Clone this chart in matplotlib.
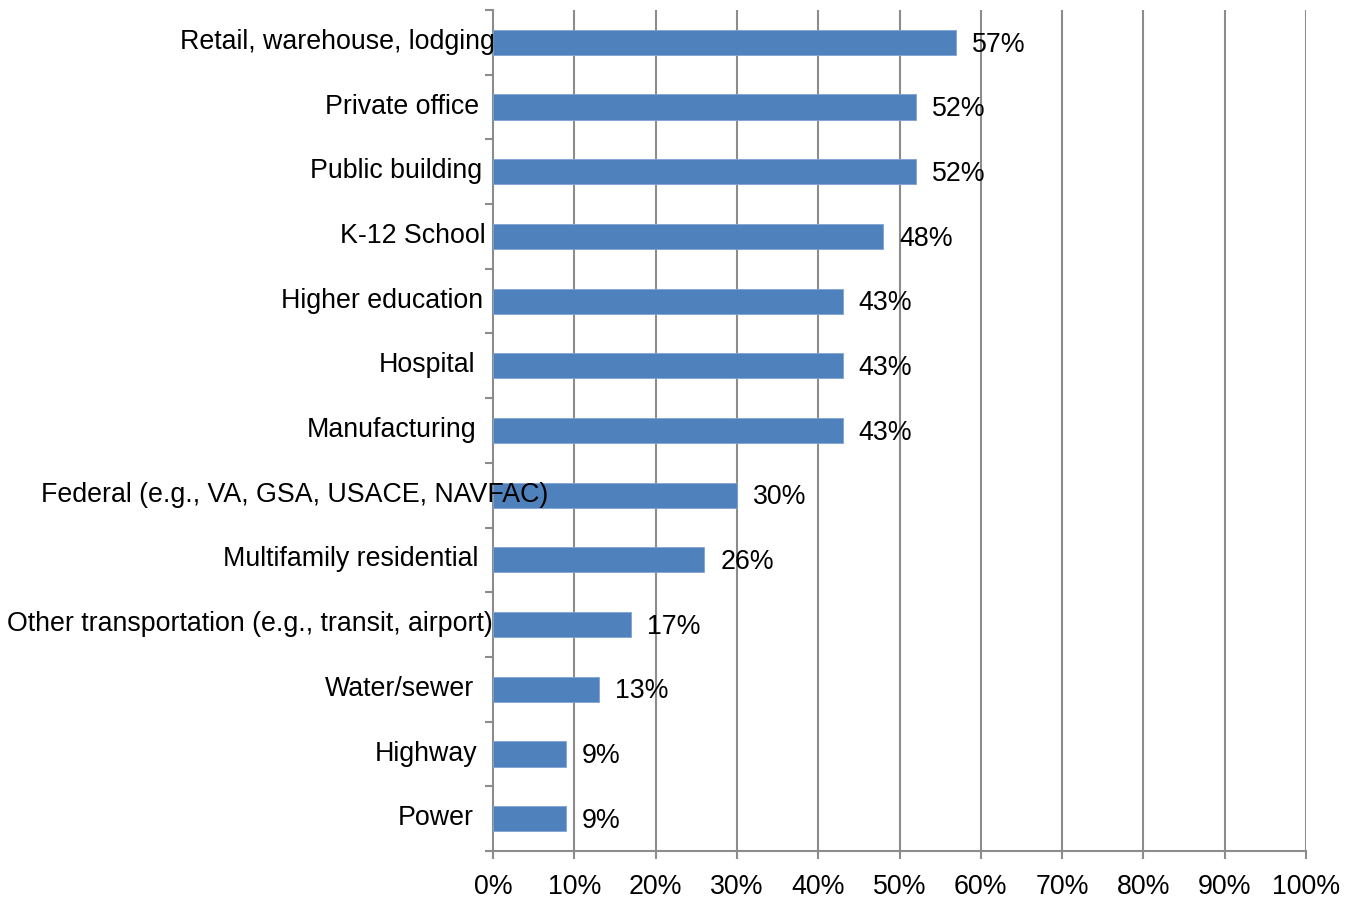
import matplotlib
matplotlib.use("Agg")
import matplotlib.pyplot as plt
from matplotlib.ticker import PercentFormatter

categories = ["Retail, warehouse, lodging", "Private office", "Public building",
              "K-12 School", "Higher education", "Hospital", "Manufacturing",
              "Federal (e.g., VA, GSA, USACE, NAVFAC)", "Multifamily residential",
              "Other transportation (e.g., transit, airport)", "Water/sewer",
              "Highway", "Power"]
values = [57, 52, 52, 48, 43, 43, 43, 30, 26, 17, 13, 9, 9]
value_labels = ["57%", "52%", "52%", "48%", "43%", "43%", "43%", "30%",
                "26%", "17%", "13%", "9%", "9%"]
x_ticks = [0, 10, 20, 30, 40, 50, 60, 70, 80, 90, 100]
# right edge of each category label relative to the axis (pixels)
label_offsets = [2, -14, -11, -7, -10, -18, -17, 55, -15, 0, -19, -16, -19]

plt.rcParams['font.family'] = ['Liberation Sans', 'DejaVu Sans']
FS = 19.3

fig = plt.figure(figsize=(13.66, 9), dpi=100)
ax = fig.add_axes([493/1366, 49/900, (1306-493)/1366, (851-10)/900])

n = len(categories)
ypos = list(range(n))
ax.barh(ypos, values, height=0.39, color="#4F81BD", edgecolor="#7FA3D3",
        linewidth=0.6, zorder=3)
ax.set_ylim(n - 0.5, -0.5)
ax.set_xlim(0, 100)

grid_color = "#8C8C8C"
for t in x_ticks[1:]:
    ax.axvline(t, color=grid_color, linewidth=1.5, zorder=1)

ax.set_xticks(x_ticks)
ax.xaxis.set_major_formatter(PercentFormatter(decimals=0))
ax.tick_params(axis='x', direction='out', length=6, width=1.5, color=grid_color,
               labelsize=FS, pad=10.5)
ax.set_yticks([i - 0.5 for i in range(n + 1)])
ax.set_yticklabels([])
ax.tick_params(axis='y', direction='out', length=6, width=1.5, color=grid_color)

for s in ["top", "right"]:
    ax.spines[s].set_visible(False)
for s in ["left", "bottom"]:
    ax.spines[s].set_color(grid_color)
    ax.spines[s].set_linewidth(1.5)

for i, (cat, off) in enumerate(zip(categories, label_offsets)):
    ax.annotate(cat, xy=(0, i), xycoords=('axes fraction', 'data'),
                xytext=(off * 0.72, 0.3), textcoords='offset points',
                ha='right', va='center', fontsize=FS, zorder=5)

for i, (v, lab) in enumerate(zip(values, value_labels)):
    ax.annotate(lab, xy=(v, i), xycoords='data', xytext=(16 * 0.72, -1.6),
                textcoords='offset points', ha='left', va='center', fontsize=FS,
                zorder=5)

fig.savefig("out.png", dpi=100)
